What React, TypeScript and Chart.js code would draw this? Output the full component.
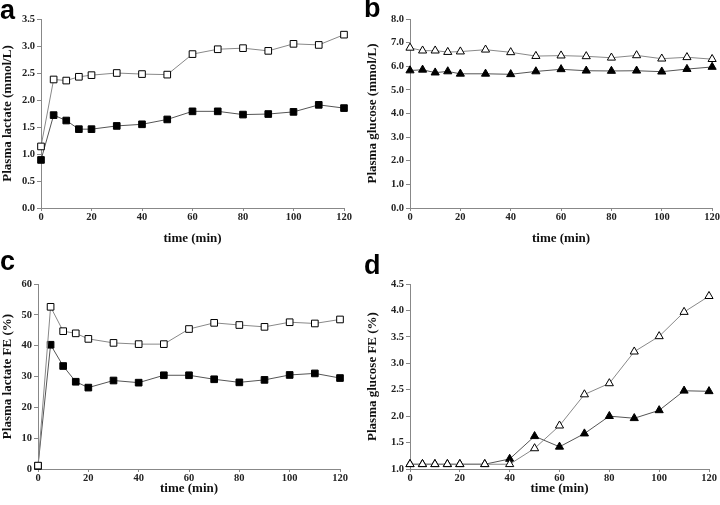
import React, { useEffect, useRef } from "react";
import { Chart, registerables } from "chart.js";

Chart.register(...registerables);

const times = [0, 5, 10, 15, 20, 30, 40, 50, 60, 70, 80, 90, 100, 110, 120];

const lactateOpen = [1.14, 2.38, 2.36, 2.43, 2.46, 2.5, 2.48, 2.47, 2.85, 2.94, 2.96, 2.91, 3.04, 3.02, 3.21];
const lactateFilled = [0.89, 1.72, 1.62, 1.46, 1.46, 1.52, 1.55, 1.64, 1.79, 1.79, 1.73, 1.74, 1.78, 1.91, 1.85];
const glucoseOpen = [6.78, 6.66, 6.66, 6.6, 6.62, 6.7, 6.59, 6.43, 6.45, 6.42, 6.36, 6.46, 6.32, 6.38, 6.3];
const glucoseFilled = [5.82, 5.85, 5.73, 5.78, 5.68, 5.68, 5.66, 5.78, 5.87, 5.81, 5.8, 5.81, 5.77, 5.88, 5.97];
const lactateFEOpen = [1.1, 52.6, 44.7, 44.0, 42.2, 40.9, 40.5, 40.5, 45.4, 47.4, 46.7, 46.1, 47.6, 47.2, 48.5];
const lactateFEFilled = [1.0, 40.3, 33.4, 28.3, 26.4, 28.7, 28.0, 30.4, 30.4, 29.1, 28.1, 28.9, 30.5, 31.0, 29.5];
const glucoseFEOpen = [1.09, 1.09, 1.09, 1.09, 1.09, 1.09, 1.09, 1.39, 1.82, 2.41, 2.62, 3.22, 3.51, 3.97, 4.27];
const glucoseFEFilled = [1.09, 1.09, 1.09, 1.09, 1.09, 1.09, 1.19, 1.62, 1.42, 1.67, 2.0, 1.96, 2.11, 2.48, 2.47];

const xTitle = "time (min)";
const panelLetters = ["a", "b", "c", "d"];
const yTitles = [
  "Plasma lactate (mmol/L)",
  "Plasma glucose (mmol/L)",
  "Plasma lactate FE (%)",
  "Plasma glucose FE (%)",
];

type PanelProps = {
  left: number;
  top: number;
  w: number;
  h: number;
  plotL: number;
  plotT: number;
  plotR: number;
  plotB: number;
  yTitlePad: number;
  xTitlePad: number;
  yTitle: string;
  yMin: number;
  yMax: number;
  yStep: number;
  decimals: number;
  open: number[];
  filled: number[];
  marker: "rect" | "triangle";
};

const serif = "'Liberation Serif', 'Times New Roman', serif";

function Panel(p: PanelProps) {
  const ref = useRef<HTMLCanvasElement | null>(null);
  useEffect(() => {
    if (!ref.current) return;
    const radius = 4.7;
    const mk = (vals: number[], fill: string, line: string) => ({
      data: vals.map((v, i) => ({ x: times[i], y: v })),
      borderColor: line,
      borderWidth: 1,
      pointStyle: p.marker,
      pointRadius: radius,
      pointHoverRadius: radius,
      pointBackgroundColor: fill,
      pointBorderColor: "#000",
      pointBorderWidth: 1,
      tension: 0,
      clip: false as any,
    });
    const chart = new Chart(ref.current, {
      type: "line",
      data: {
        datasets: [mk(p.open, "#fff", "#888"), mk(p.filled, "#000", "#555")],
      },
      options: {
        animation: false,
        responsive: false,
        layout: {
          padding: { left: 0, top: p.plotT, right: p.w - p.plotR, bottom: 0 },
        },
        plugins: { legend: { display: false }, tooltip: { enabled: false } },
        scales: {
          x: {
            type: "linear",
            min: 0,
            max: 120,
            ticks: {
              stepSize: 20,
              padding: 0,
              color: "#222",
              font: { family: serif, size: 10.5, weight: "bold" },
              maxRotation: 0,
            },
            grid: { drawOnChartArea: false, drawTicks: true, tickLength: 3, color: "#888" },
            border: { display: true, color: "#888", width: 1 },
            title: {
              display: true,
              text: xTitle,
              color: "#111",
              font: { family: serif, size: 13, weight: "bold" },
              padding: { top: 0, bottom: p.xTitlePad },
            },
            afterFit: (s: any) => {
              s.height = p.h - p.plotB;
            },
          },
          y: {
            type: "linear",
            min: p.yMin,
            max: p.yMax,
            ticks: {
              stepSize: p.yStep,
              padding: 2,
              color: "#222",
              font: { family: serif, size: 10.5, weight: "bold" },
              callback: (v: any) => Number(v).toFixed(p.decimals),
            },
            grid: { drawOnChartArea: false, drawTicks: true, tickLength: 4, color: "#888" },
            border: { display: true, color: "#888", width: 1 },
            title: {
              display: true,
              text: p.yTitle,
              color: "#111",
              font: { family: serif, size: 13, weight: "bold" },
              padding: { top: p.yTitlePad, bottom: 0 },
            },
            afterFit: (s: any) => {
              s.width = p.plotL;
            },
          },
        },
      } as any,
    });
    return () => chart.destroy();
  }, []);
  return (
    <div style={{ position: "absolute", left: p.left, top: p.top, width: p.w, height: p.h }}>
      <canvas ref={ref} width={p.w} height={p.h} style={{ width: p.w, height: p.h, display: "block" }} />
    </div>
  );
}

const letterStyle = (left: number, top: number): React.CSSProperties => ({
  position: "absolute",
  left,
  top,
  fontFamily: "'Liberation Sans', Arial, sans-serif",
  fontWeight: "bold",
  fontSize: 27,
  lineHeight: "27px",
  color: "#000",
});

export default function App() {
  useEffect(() => {
    document.body.style.margin = "0";
  }, []);
  return (
    <div style={{ position: "relative", width: 720, height: 505, overflow: "hidden", background: "#fff" }}>
      <Panel left={0} top={0} w={360} h={250} plotL={41} plotT={19} plotR={344} plotB={208}
        yTitlePad={0} xTitlePad={4} yTitle={yTitles[0]} yMin={0} yMax={3.5} yStep={0.5} decimals={1}
        open={lactateOpen} filled={lactateFilled} marker="rect" />
      <Panel left={360} top={0} w={360} h={250} plotL={50} plotT={19} plotR={353} plotB={208}
        yTitlePad={5} xTitlePad={4} yTitle={yTitles[1]} yMin={0} yMax={8} yStep={1} decimals={1}
        open={glucoseOpen} filled={glucoseFilled} marker="triangle" />
      <Panel left={0} top={250} w={360} h={255} plotL={38} plotT={34} plotR={340} plotB={219}
        yTitlePad={0} xTitlePad={9} yTitle={yTitles[2]} yMin={0} yMax={60} yStep={10} decimals={0}
        open={lactateFEOpen} filled={lactateFEFilled} marker="rect" />
      <Panel left={360} top={250} w={360} h={255} plotL={50} plotT={34} plotR={349} plotB={219}
        yTitlePad={5} xTitlePad={9} yTitle={yTitles[3]} yMin={1} yMax={4.5} yStep={0.5} decimals={1}
        open={glucoseFEOpen} filled={glucoseFEFilled} marker="triangle" />
      <div style={letterStyle(0, -3)}>{panelLetters[0]}</div>
      <div style={letterStyle(364, -5)}>{panelLetters[1]}</div>
      <div style={letterStyle(0, 248)}>{panelLetters[2]}</div>
      <div style={letterStyle(364, 252)}>{panelLetters[3]}</div>
    </div>
  );
}
